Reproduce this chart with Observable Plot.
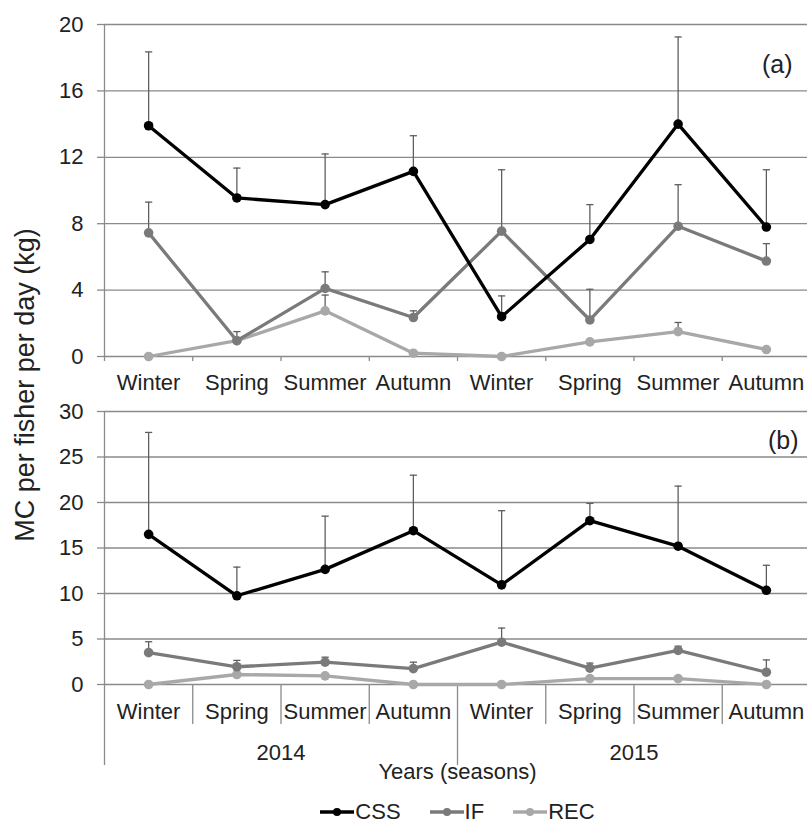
<!DOCTYPE html>
<html><head><meta charset="utf-8">
<script src="https://cdn.jsdelivr.net/npm/d3@7"></script>
<script src="https://cdn.jsdelivr.net/npm/@observablehq/plot@0.6"></script>
<style>
body{margin:0;background:#fff;}
#wrap{position:relative;width:807px;height:823px;font-family:"Liberation Sans",Arial,sans-serif;color:#222;overflow:hidden;background:#fff;}
#wrap svg.panel{position:absolute;left:0;overflow:visible;}
#ylab{position:absolute;left:25px;top:385px;transform:translate(-50%,-50%) rotate(-90deg);white-space:nowrap;font-size:27px;line-height:30px;}
#legend{position:absolute;left:104px;width:706px;top:801px;height:22px;line-height:22px;display:flex;justify-content:center;align-items:center;gap:28px;font-size:22px;}
#legend .item{display:flex;align-items:center;height:22px;}
#legend span{line-height:22px;}
</style></head><body><div id="wrap"><div id="ylab">MC per fisher per day (kg)</div><div id="legend"></div></div>
<script>
const seasons = ["Winter","Spring","Summer","Autumn","Winter","Spring","Summer","Autumn"];
const years = ["2014","2015"];
const seriesNames = ["CSS","IF","REC"];
const seriesColors = ["#000000","#7a7a7a","#a8a8a8"];

// Panel (a)
const cssA    = [13.9, 9.55, 9.15, 11.15, 2.4, 7.05, 14.0, 7.8];
const cssAErr = [18.35, 11.35, 12.2, 13.3, 3.65, 9.15, 19.25, 11.25];
const ifA     = [7.45, 0.95, 4.1, 2.35, 7.55, 2.2, 7.85, 5.75];
const ifAErr  = [9.3, 1.5, 5.1, 2.75, 11.25, 4.05, 10.35, 6.8];
const recA    = [0, 0.95, 2.75, 0.2, 0, 0.88, 1.5, 0.42];
const recAErr = [null, null, 3.7, null, null, null, 2.05, null];
const yTicksA = [0, 4, 8, 12, 16, 20];

// Panel (b)
const cssB    = [16.5, 9.75, 12.65, 16.9, 10.95, 18.0, 15.2, 10.35];
const cssBErr = [27.7, 12.9, 18.5, 23.0, 19.1, 19.9, 21.8, 13.1];
const ifB     = [3.5, 1.95, 2.45, 1.75, 4.65, 1.8, 3.75, 1.35];
const ifBErr  = [4.7, 2.65, 3.0, 2.45, 6.2, 2.35, 4.2, 2.7];
const recB    = [0, 1.1, 0.95, 0, 0, 0.65, 0.65, 0];
const recBErr = [null, null, null, null, null, null, null, null];
const yTicksB = [0, 5, 10, 15, 20, 25, 30];

const GRID = "#8a8a8a", ERR = "#5f5f5f", TXT = "#222";
const idx = d3.range(seasons.length);
const inner = idx.slice(1).map(i => i - 0.5);

function rows(sets) {
  const out = [];
  sets.forEach(([name, vals, errs]) => vals.forEach((v, i) => out.push({i, v, e: errs[i], s: name})));
  return out;
}
const cap = {draw(ctx, size) { const h = Math.sqrt(size / Math.PI); ctx.moveTo(-h, 0); ctx.lineTo(h, 0); }};

function dataMarks(data) {
  const errs = data.filter(d => d.e != null);
  const order = ["REC", "IF", "CSS"];
  const marks = [
    Plot.ruleX(errs, {x: "i", y1: "v", y2: "e", stroke: ERR, strokeWidth: 1.3}),
    Plot.dot(errs, {x: "i", y: "e", symbol: cap, r: 3.6, stroke: ERR, strokeWidth: 1.3, fill: "none"})
  ];
  for (const s of order) {
    const sub = data.filter(d => d.s === s);
    marks.push(Plot.line(sub, {x: "i", y: "v", stroke: "s", strokeWidth: 3.3}));
    marks.push(Plot.dot(sub, {x: "i", y: "v", fill: "s", r: 4.8}));
  }
  return marks;
}

const common = {
  width: 807, marginLeft: 104, marginRight: -3,
  x: {domain: [-0.5, 7.5], axis: null},
  color: {domain: seriesNames, range: seriesColors},
  style: {fontFamily: '"Liberation Sans", Arial, sans-serif', fontSize: "22px", color: TXT, background: "transparent", overflow: "visible"}
};

const dataA = rows([["CSS", cssA, cssAErr], ["IF", ifA, ifAErr], ["REC", recA, recAErr]]);
const plotA = Plot.plot({
  ...common,
  height: 400, marginTop: 24, marginBottom: 44,
  y: {domain: [0, 20], axis: null},
  marks: [
    Plot.gridY(yTicksA, {stroke: GRID, strokeOpacity: 1, strokeWidth: 1.3}),
    Plot.axisY(yTicksA, {tickSize: 7, tickPadding: 14, stroke: GRID, strokeWidth: 1.3, fill: TXT, fontSize: 22, label: null}),
    Plot.ruleX([-0.5], {y1: 0, y2: 20, stroke: GRID, strokeWidth: 1.3}),
    Plot.axisX([-0.5, ...inner], {tickSize: 5, stroke: GRID, strokeWidth: 1.3, tickFormat: () => "", label: null}),
    Plot.axisX(idx, {tickSize: 0, tickPadding: 18, tickFormat: i => seasons[i], fill: TXT, fontSize: 22, label: null}),
    ...dataMarks(dataA),
    Plot.text(["(a)"], {frameAnchor: "top-right", dx: -18, dy: 31, textAnchor: "end", fontSize: 25, fill: TXT})
  ]
});
plotA.classList.add("panel");
plotA.style.top = "0px";

const dataB = rows([["CSS", cssB, cssBErr], ["IF", ifB, ifBErr], ["REC", recB, recBErr]]);
const plotB = Plot.plot({
  ...common,
  height: 390, marginTop: 11, marginBottom: 106,
  y: {domain: [0, 30], axis: null},
  marks: [
    Plot.gridY(yTicksB, {stroke: GRID, strokeOpacity: 1, strokeWidth: 1.3}),
    Plot.axisY(yTicksB, {tickSize: 7, tickPadding: 14, stroke: GRID, strokeWidth: 1.3, fill: TXT, fontSize: 22, label: null}),
    Plot.ruleX([-0.5, 7.5], {y1: 0, y2: 30, stroke: GRID, strokeWidth: 1.3}),
    Plot.axisX(inner.filter(b => b !== 3.5), {tickSize: 40, stroke: GRID, strokeWidth: 1.3, tickFormat: () => "", label: null}),
    Plot.axisX([-0.5, 3.5, 7.5], {tickSize: 81, stroke: GRID, strokeWidth: 1.3, tickFormat: () => "", label: null}),
    Plot.axisX(idx, {tickSize: 0, tickPadding: 19, tickFormat: i => seasons[i], fill: TXT, fontSize: 22, label: null}),
    Plot.axisX([1.5, 5.5], {tickSize: 0, tickPadding: 60, tickFormat: d => years[Math.floor((d + 0.5) / 4)], fill: TXT, fontSize: 22, label: null}),
    Plot.text(["Years (seasons)"], {frameAnchor: "bottom", dy: 94, fontSize: 22, fill: TXT}),
    ...dataMarks(dataB),
    Plot.text(["(b)"], {frameAnchor: "top-right", dx: -12, dy: 20, textAnchor: "end", fontSize: 25, fill: TXT})
  ]
});
plotB.classList.add("panel");
plotB.style.top = "400px";

const wrap = document.getElementById("wrap");
wrap.appendChild(plotA);
wrap.appendChild(plotB);

const legend = document.getElementById("legend");
seriesNames.forEach((name, k) => {
  const item = document.createElement("div");
  item.className = "item";
  const ns = "http://www.w3.org/2000/svg";
  const sw = document.createElementNS(ns, "svg");
  sw.setAttribute("width", 36); sw.setAttribute("height", 14);
  const ln = document.createElementNS(ns, "line");
  ln.setAttribute("x1", 1); ln.setAttribute("x2", 35); ln.setAttribute("y1", 7); ln.setAttribute("y2", 7);
  ln.setAttribute("stroke", seriesColors[k]); ln.setAttribute("stroke-width", 3.3);
  const c = document.createElementNS(ns, "circle");
  c.setAttribute("cx", 18); c.setAttribute("cy", 7); c.setAttribute("r", 4); c.setAttribute("fill", seriesColors[k]);
  sw.appendChild(ln); sw.appendChild(c);
  const t = document.createElement("span");
  t.textContent = name;
  item.appendChild(sw); item.appendChild(t);
  legend.appendChild(item);
});
</script></body></html>
